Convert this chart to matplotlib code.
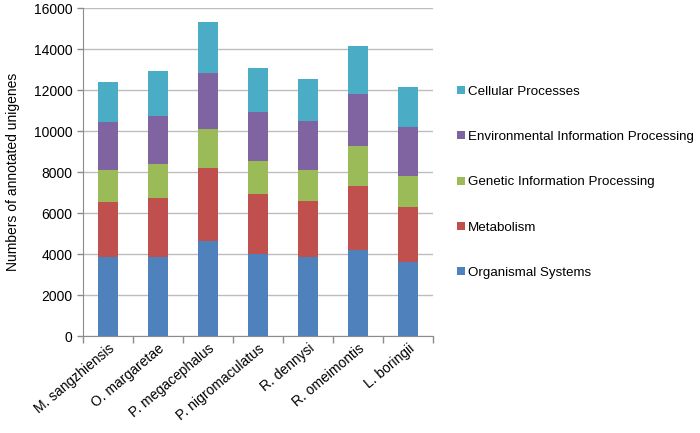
import numpy as np
import matplotlib
matplotlib.use("Agg")
import matplotlib.pyplot as plt

plt.rcParams['font.family'] = ['Liberation Sans', 'DejaVu Sans']

species = ['M. sangzhiensis', 'O. margaretae', 'P. megacephalus', 'P. nigromaculatus',
           'R. dennysi', 'R. omeimontis', 'L. boringii']

# segment sizes per pathway category (read from the stacked tops)
organismal = [3850, 3870, 4650, 4000, 3840, 4200, 3600]
metabolism = [2670, 2850, 3530, 2940, 2760, 3120, 2680]
genetic = [1560, 1670, 1920, 1610, 1480, 1950, 1540]
environmental = [2340, 2340, 2730, 2390, 2390, 2520, 2360]
cellular = [1970, 2180, 2470, 2120, 2080, 2370, 1950]

series = [
    ('Organismal Systems', organismal, '#4F81BD'),
    ('Metabolism', metabolism, '#C0504D'),
    ('Genetic Information Processing', genetic, '#9BBB59'),
    ('Environmental Information Processing', environmental, '#8064A2'),
    ('Cellular Processes', cellular, '#4BACC6'),
]

fig = plt.figure(figsize=(7, 4.33), dpi=100)
ax = fig.add_axes([0.1186, 0.224, 0.5, 0.7575])

x = np.arange(len(species))
bottom = np.zeros(len(species))
handles = []
for name, vals, col in series:
    b = ax.bar(x, vals, 0.4, bottom=bottom, color=col, label=name, zorder=3)
    bottom += np.array(vals)
    handles.append(b)

ax.set_xlim(-0.5, len(species) - 0.5)
ax.set_ylim(0, 16000)
ax.set_yticks(np.arange(0, 16001, 2000))
ax.yaxis.grid(True, color='#bdbdbd', linewidth=1, zorder=0)
ax.tick_params(axis='y', labelsize=10, length=4, color='#8c8c8c', width=1)
ax.set_ylabel('Numbers of annotated unigenes', fontsize=10, labelpad=10)

ax.set_xticks(x)
ax.set_xticklabels(species, rotation=40, ha='right', rotation_mode='anchor',
                   fontsize=10)
ax.tick_params(axis='x', length=0, pad=4)
ax.set_xticks(np.arange(-0.5, len(species), 1), minor=True)
ax.tick_params(axis='x', which='minor', length=5, color='#8c8c8c', width=1)

for s in ['top', 'right']:
    ax.spines[s].set_visible(False)
for s in ['left', 'bottom']:
    ax.spines[s].set_color('#8c8c8c')

leg = fig.legend(handles[::-1], [s[0] for s in series][::-1], loc='upper left',
                 bbox_to_anchor=(0.636, 0.83), frameon=False, fontsize=9.6,
                 handlelength=0.55, handleheight=0.55, handletextpad=0.25,
                 labelspacing=2.5)

fig.savefig('out.png', dpi=100)
